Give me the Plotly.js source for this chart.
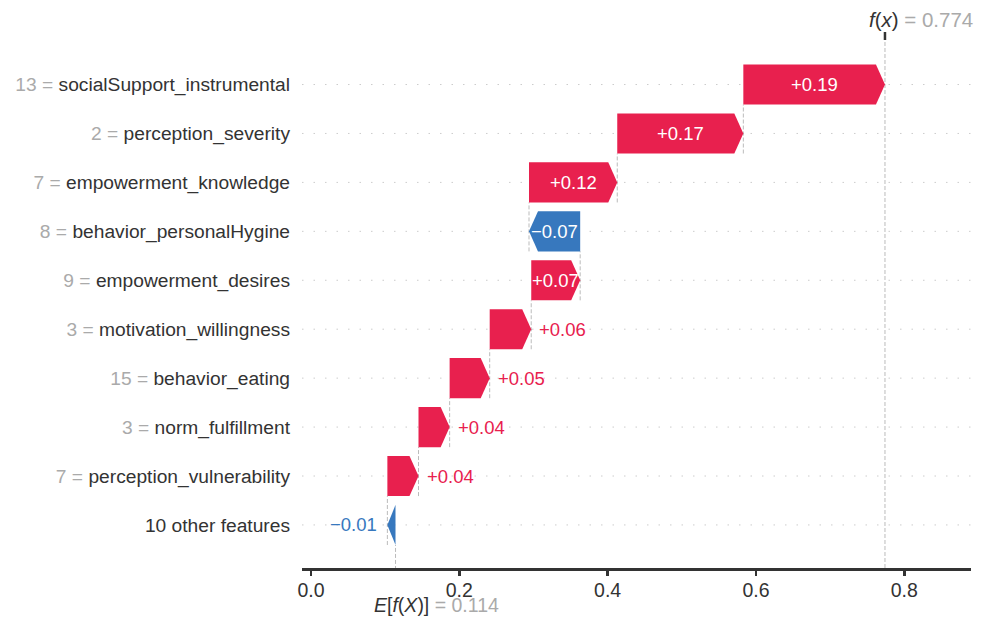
<!DOCTYPE html>
<html>
<head>
<meta charset="utf-8">
<script src="https://cdn.plot.ly/plotly-3.0.1.min.js"></script>
<style>html,body{margin:0;padding:0;background:#fff}#chart{width:988px;height:617px}</style>
</head>
<body>
<div id="chart"></div>
<script>
// ---- data (top row first) ----
const featureNames = ["socialSupport_instrumental","perception_severity","empowerment_knowledge","behavior_personalHygine","empowerment_desires","motivation_willingness","behavior_eating","norm_fulfillment","perception_vulnerability","10 other features"];
const featureValues = ["13","2","7","8","9","3","15","3","7",""];
const shapValues = [0.191,0.170,0.119,-0.069,0.066,0.056,0.054,0.042,0.042,-0.011];
const baseValue = 0.114;
const fxValue = 0.774;
const xTicks = [0.0,0.2,0.4,0.6,0.8];
const xTickLabels = ["0.0","0.2","0.4","0.6","0.8"];

// ---- styling ----
const RED = "#e8204e", BLUE = "#3778be";
const FONT = "Liberation Sans, Arial, sans-serif";
const n = featureNames.length;
const xRange = [-0.0121, 0.890];
const yRange = [-0.88, n - 1 + 0.91];
const margin = {l:302, r:17, t:40, b:49};
const plotW = 988 - margin.l - margin.r;
const pxPerUnit = plotW / (xRange[1] - xRange[0]);
const halfH = 0.41;
const headLen = 9 / pxPerUnit;
const fmt = v => (v >= 0 ? "+" : "\u2212") + Math.abs(v).toFixed(2);

// cumulative starts, from bottom row (last) up
const starts = new Array(n), ends = new Array(n), rowY = new Array(n);
let cur = baseValue;
for (let i = n - 1; i >= 0; i--) {
  starts[i] = cur;
  cur += shapValues[i];
  ends[i] = cur;
  rowY[i] = n - 1 - i;
}

const traces = [];
const annotations = [];
const shapes = [];

// horizontal dotted row lines
for (let i = 0; i < n; i++) {
  shapes.push({type:"line", layer:"below", xref:"paper", yref:"y", x0:0, x1:1, y0:rowY[i], y1:rowY[i],
    line:{color:"#cccccc", width:1, dash:"1.5px,10px"}});
}

for (let i = 0; i < n; i++) {
  const a = starts[i], b = ends[i], y = rowY[i], v = shapValues[i];
  const pos = v >= 0;
  const hl = Math.min(headLen, Math.abs(v));
  const neck = pos ? b - hl : b + hl;
  traces.push({
    type:"scatter", mode:"lines", fill:"toself", fillcolor: pos ? RED : BLUE,
    line:{width:0, color: pos ? RED : BLUE},
    x:[a, neck, b, neck, a, a],
    y:[y + halfH, y + halfH, y, y - halfH, y - halfH, y + halfH],
    hoverinfo:"skip", showlegend:false
  });
  // connector dashed line at start of bar
  shapes.push({type:"line", layer:"below", xref:"x", yref:"y", x0:a, x1:a, y0:y - 1 - halfH, y1:y - halfH,
    line:{color:"#bbbbbb", width:1, dash:"4px,2px"}});
  // label
  const label = fmt(v);
  const barPx = Math.abs(v) * pxPerUnit;
  const labelPx = label.length * 9.4;
  if (barPx > labelPx) {
    annotations.push({x:(a + b) / 2, y:y, xref:"x", yref:"y", text:label, showarrow:false,
      font:{family:FONT, size:18.5, color:"#ffffff"}, xanchor:"center", yanchor:"middle"});
  } else {
    annotations.push({x:b, y:y, xref:"x", yref:"y", text:label, showarrow:false,
      font:{family:FONT, size:18.5, color: pos ? RED : BLUE},
      xanchor: pos ? "left" : "right", xshift: pos ? 6 : -8, yanchor:"middle"});
  }
}

// f(x) full-height dashed line
shapes.push({type:"line", layer:"below", xref:"x", yref:"paper", x0:fxValue, x1:fxValue, y0:0, y1:1,
  line:{color:"#bbbbbb", width:1, dash:"4px,2px"}});
// f(x) tick on top
shapes.push({type:"line", xref:"x", yref:"paper", x0:fxValue, x1:fxValue, y0:1, y1:1 + 8/528,
  line:{color:"#333333", width:2.5}});

annotations.push({x:fxValue, xref:"x", y:1, yref:"paper", xanchor:"left", yanchor:"middle",
  xshift:-18, yshift:21, showarrow:false,
  text:'<i>f</i>(<i>x</i>)<span style="color:#aaaaaa"> = ' + fxValue.toFixed(3) + '</span>',
  font:{family:FONT, size:20.5, color:"#333333"}});
annotations.push({x:baseValue, xref:"x", y:0, yref:"paper", xanchor:"left", yanchor:"middle",
  xshift:-24, yshift:-37, showarrow:false,
  text:'<i>E</i>[<i>f</i>(<i>X</i>)]<span style="color:#aaaaaa"> = ' + baseValue.toFixed(3) + '</span>',
  font:{family:FONT, size:19.5, color:"#333333"}});

const tickText = featureNames.map((nm, i) =>
  featureValues[i] !== "" ? '<span style="color:#aaaaaa">' + featureValues[i] + ' = </span>' + nm : nm);

const layout = {
  width:988, height:617, margin:margin,
  paper_bgcolor:"#ffffff", plot_bgcolor:"#ffffff",
  showlegend:false, hovermode:false,
  font:{family:FONT, color:"#333333"},
  xaxis:{range:xRange, tickvals:xTicks, ticktext:xTickLabels, showgrid:false, zeroline:false,
    showline:true, linecolor:"#333333", linewidth:3, ticks:"outside", ticklen:5, tickwidth:2.5,
    tickcolor:"#333333", ticklabelstandoff:-2, tickfont:{family:FONT, size:19.5, color:"#333333"}, fixedrange:true},
  yaxis:{range:yRange, tickvals:rowY, ticktext:tickText, showgrid:false, zeroline:false,
    showline:false, ticks:"", ticklabelstandoff:11,
    tickfont:{family:FONT, size:19.2, color:"#333333"}, fixedrange:true},
  shapes:shapes, annotations:annotations
};

Plotly.newPlot("chart", traces, layout, {staticPlot:true, displayModeBar:false});
</script>
</body>
</html>
